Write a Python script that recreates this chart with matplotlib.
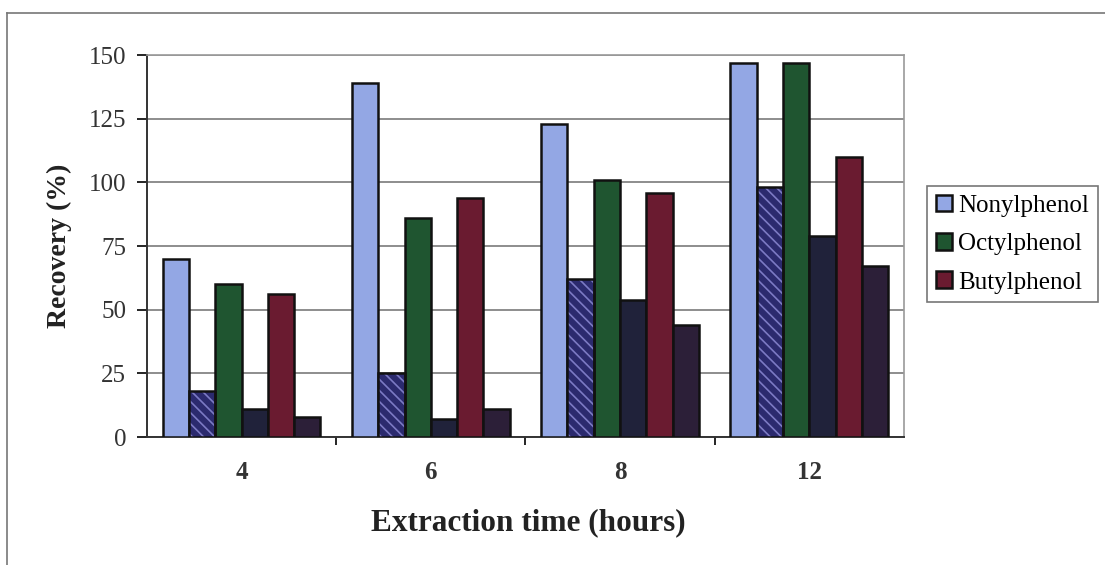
import matplotlib.pyplot as plt
import matplotlib.patches as mpatches
import matplotlib.lines as mlines
import numpy as np

# extraction times and recoveries (%)
times = ['4', '6', '8', '12']
nonylphenol = [70, 139, 123, 147]
nonyl_2 = [18, 25, 62, 98]
octylphenol = [60, 86, 101, 147]
octyl_2 = [11, 7, 54, 79]
butylphenol = [56, 94, 96, 110]
butyl_2 = [8, 11, 44, 67]

plt.rcParams['font.family'] = ['Liberation Serif', 'DejaVu Serif']
plt.rcParams['hatch.linewidth'] = 1.2

fig = plt.figure(figsize=(11.05, 5.65), dpi=100)
ax = fig.add_axes([0.133, 0.2265, 0.685, 0.676])

x = np.arange(len(times))
w = 0.139
series = [
    (nonylphenol, '#93a7e4', None, 'Nonylphenol'),
    (nonyl_2, '#2b2a6e', '\\\\\\', None),
    (octylphenol, '#1f5530', None, 'Octylphenol'),
    (octyl_2, '#20223a', None, None),
    (butylphenol, '#6a1b30', None, 'Butylphenol'),
    (butyl_2, '#2c1f38', None, None),
]
handles = []
for i, (vals, col, hatch, lab) in enumerate(series):
    pos = x + (i - 2.5) * w
    if hatch:
        # hatch drawn in a lighter colour, then a black outline on top
        ax.bar(pos, vals, w, color=col, edgecolor='#7c7ac4', hatch=hatch,
               linewidth=0, zorder=3)
        ax.bar(pos, vals, w, fill=False, edgecolor='#111111', linewidth=1.8, zorder=4)
    else:
        ax.bar(pos, vals, w, color=col, edgecolor='#111111', linewidth=1.8, zorder=3)
    if lab:
        handles.append(mpatches.Patch(facecolor=col, edgecolor='#111111', linewidth=1.8, label=lab))

ax.set_xlim(-0.5, 3.5)
ax.set_ylim(0, 150)
ax.set_yticks(np.arange(0, 151, 25))
ax.yaxis.grid(True, color='#7a7a7a', linewidth=1.2, zorder=0)
ax.set_axisbelow(True)

ax.set_xticks(x)
ax.set_xticklabels(times)
ax.set_xticks(np.arange(0.5, 3.5, 1), minor=True)
ax.tick_params(axis='x', which='major', length=0, pad=17, labelsize=18, labelcolor='#333333')
for t in ax.get_xticklabels():
    t.set_fontweight('bold')
ax.tick_params(axis='x', which='minor', length=6, width=1.2, direction='out')
ax.tick_params(axis='y', labelsize=18, labelcolor='#333333', length=7, width=1.2,
               direction='out', pad=8)

for s in ['top', 'right']:
    ax.spines[s].set_color('#9a9a9a')
    ax.spines[s].set_linewidth(1.2)
for s in ['left', 'bottom']:
    ax.spines[s].set_color('#333333')
    ax.spines[s].set_linewidth(1.4)

ax.set_ylabel('Recovery (%)', fontsize=20, fontweight='bold', labelpad=12, color='#222222')
fig.text(0.478, 0.075, 'Extraction time (hours)', fontsize=22.5, fontweight='bold',
         ha='center', va='center', color='#222222')

leg = fig.legend(handles=handles, loc='upper left', bbox_to_anchor=(0.839, 0.671),
                 fontsize=18, frameon=True, fancybox=False, edgecolor='#555555',
                 handlelength=0.65, handleheight=0.65, handletextpad=0.25,
                 labelspacing=0.65, borderpad=0.35, borderaxespad=0)
leg.get_frame().set_linewidth(1.2)

# outer border of the chart area (top and left edges visible)
fig.add_artist(mlines.Line2D([0.0065, 1.0], [0.977, 0.977], transform=fig.transFigure,
                             color='#777777', linewidth=1.2))
fig.add_artist(mlines.Line2D([0.0065, 0.0065], [0.0, 0.977], transform=fig.transFigure,
                             color='#777777', linewidth=1.2))

fig.savefig('out.png', dpi=100)
